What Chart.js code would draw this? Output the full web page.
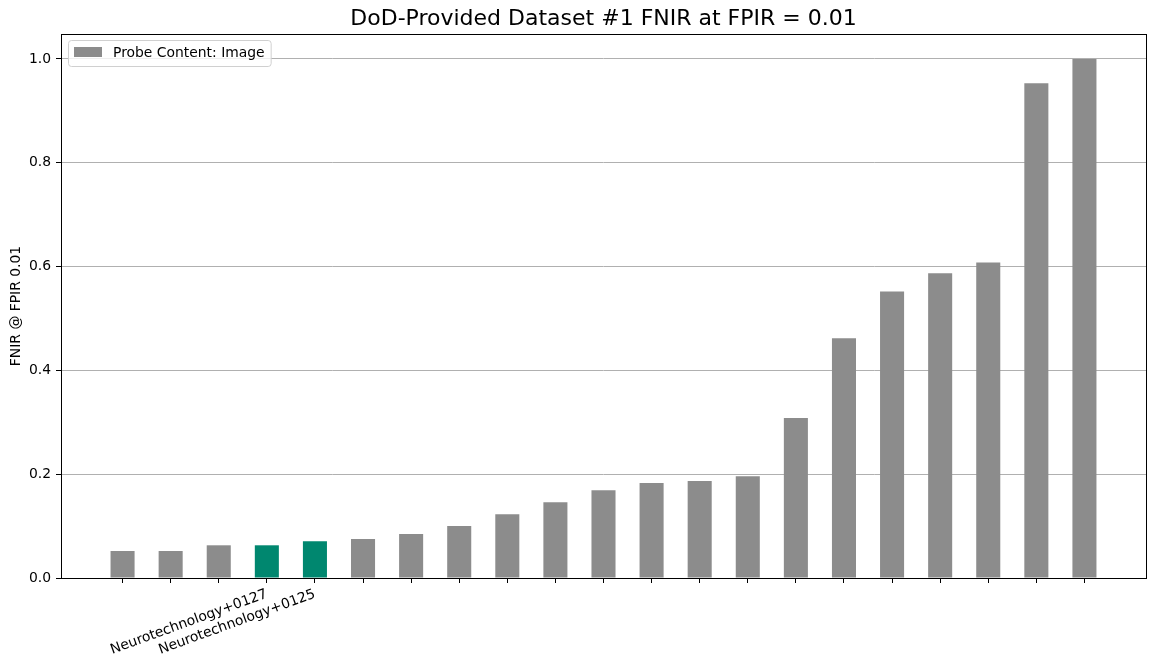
<!DOCTYPE html>
<html>
<head>
<meta charset="utf-8">
<script src="https://cdn.jsdelivr.net/npm/chart.js@4"></script>
<style>
  html, body { margin: 0; padding: 0; background: #fff; }
  #wrap { width: 1156px; height: 667px; }
</style>
</head>
<body>
<div id="wrap"><canvas id="myChart"></canvas></div>
<script>
// algorithm names (only the highlighted ones are labelled in the figure)
const algorithms = [
  "", "", "", "Neurotechnology+0127", "Neurotechnology+0125",
  "", "", "", "", "", "", "", "", "", "", "", "", "", "", "", ""
];
const fnir = [
  0.052, 0.052, 0.063, 0.063, 0.071, 0.075, 0.085, 0.100, 0.123, 0.146, 0.169,
  0.183, 0.187, 0.196, 0.308, 0.462, 0.552, 0.587, 0.608, 0.953, 1.0
];
const highlighted = [3, 4];
const yTicks = [0.0, 0.2, 0.4, 0.6, 0.8, 1.0];

const GRAY = "#8c8c8c";
const TEAL = "#00876f";
const FONT = "'DejaVu Sans', sans-serif";

const ctx = document.getElementById("myChart");

// matplotlib style frame + legend box in the upper left
const framePlugin = {
  id: "frameAndLegend",
  afterDraw: (chart) => {
    const { ctx, chartArea } = chart;
    const l = Math.round(chartArea.left) + 0.5;
    const r = Math.round(chartArea.right) + 0.5;
    const t = Math.round(chartArea.top) + 0.5;
    const b = Math.round(chartArea.bottom) + 0.5;
    ctx.save();
    ctx.strokeStyle = "#000";
    ctx.lineWidth = 1;
    ctx.strokeRect(l, t, r - l, b - t);

    // legend
    const label = chart.data.datasets[0].label;
    ctx.font = "13.9px " + FONT;
    const tw = ctx.measureText(label).width;
    const x = Math.round(chartArea.left) + 7;
    const y = Math.round(chartArea.top) + 6;
    const w = 28 + 11 + tw + 7 + 5;
    const h = 26;
    ctx.beginPath();
    ctx.roundRect(x + 0.5, y + 0.5, w, h, 3);
    ctx.fillStyle = "rgba(255,255,255,0.8)";
    ctx.fill();
    ctx.strokeStyle = "#d0d0d0";
    ctx.stroke();
    ctx.fillStyle = GRAY;
    ctx.fillRect(x + 6, y + 7, 28, 10);
    ctx.fillStyle = "#000";
    ctx.textBaseline = "middle";
    ctx.textAlign = "left";
    ctx.fillText(label, x + 6 + 28 + 11, y + 13);
    ctx.restore();
  },
};

new Chart(ctx, {
  type: "bar",
  data: {
    datasets: [
      {
        label: "Probe Content: Image",
        data: fnir.map((v, i) => ({ x: i, y: v })),
        backgroundColor: fnir.map((v, i) => (highlighted.includes(i) ? TEAL : GRAY)),
        barPercentage: 0.5,
        categoryPercentage: 1,
      },
    ],
  },
  options: {
    responsive: true,
    maintainAspectRatio: false,
    animation: false,
    layout: { padding: { top: 0, right: 10, left: 0, bottom: 0 } },
    plugins: {
      legend: { display: false },
      tooltip: { enabled: false },
      title: {
        display: true,
        fullSize: false,
        text: "DoD-Provided Dataset #1 FNIR at FPIR = 0.01",
        color: "#000",
        font: { family: FONT, size: 22, weight: "normal", lineHeight: 1.2 },
        padding: { top: 6, bottom: 1.6 },
      },
    },
    scales: {
      x: {
        type: "linear",
        min: -1.28,
        max: 21.28,
        offset: false,
        border: { display: false },
        grid: {
          offset: false,
          drawOnChartArea: false,
          drawTicks: true,
          tickLength: 5,
          tickColor: "#000",
        },
        afterBuildTicks: (scale) => {
          scale.ticks = algorithms.map((a, i) => ({ value: i }));
        },
        ticks: {
          autoSkip: false,
          maxRotation: 20,
          minRotation: 20,
          padding: 3,
          color: "#000",
          font: { family: FONT, size: 13.9 },
          callback: (value) => algorithms[value] || "",
        },
        afterFit: (scale) => {
          scale.height = 89;
        },
      },
      y: {
        min: 0,
        max: 1.048,
        z: 1,
        border: { display: false },
        grid: {
          color: (c) => (c.tick && c.tick.value === 0 ? "rgba(0,0,0,0)" : "#b0b0b0"),
          lineWidth: 1,
          tickLength: 5,
          tickColor: "#000",
        },
        afterBuildTicks: (scale) => {
          scale.ticks = yTicks.map((v) => ({ value: v }));
        },
        ticks: {
          padding: 5,
          color: "#000",
          font: { family: FONT, size: 13.9 },
          callback: (value) => value.toFixed(1),
        },
        title: {
          display: true,
          text: "FNIR @ FPIR 0.01",
          color: "#000",
          font: { family: FONT, size: 13.9 },
          padding: { top: 8, bottom: 0 },
        },
        afterFit: (scale) => {
          scale.width = 61;
        },
      },
    },
  },
  plugins: [framePlugin],
});
</script>
</body>
</html>
